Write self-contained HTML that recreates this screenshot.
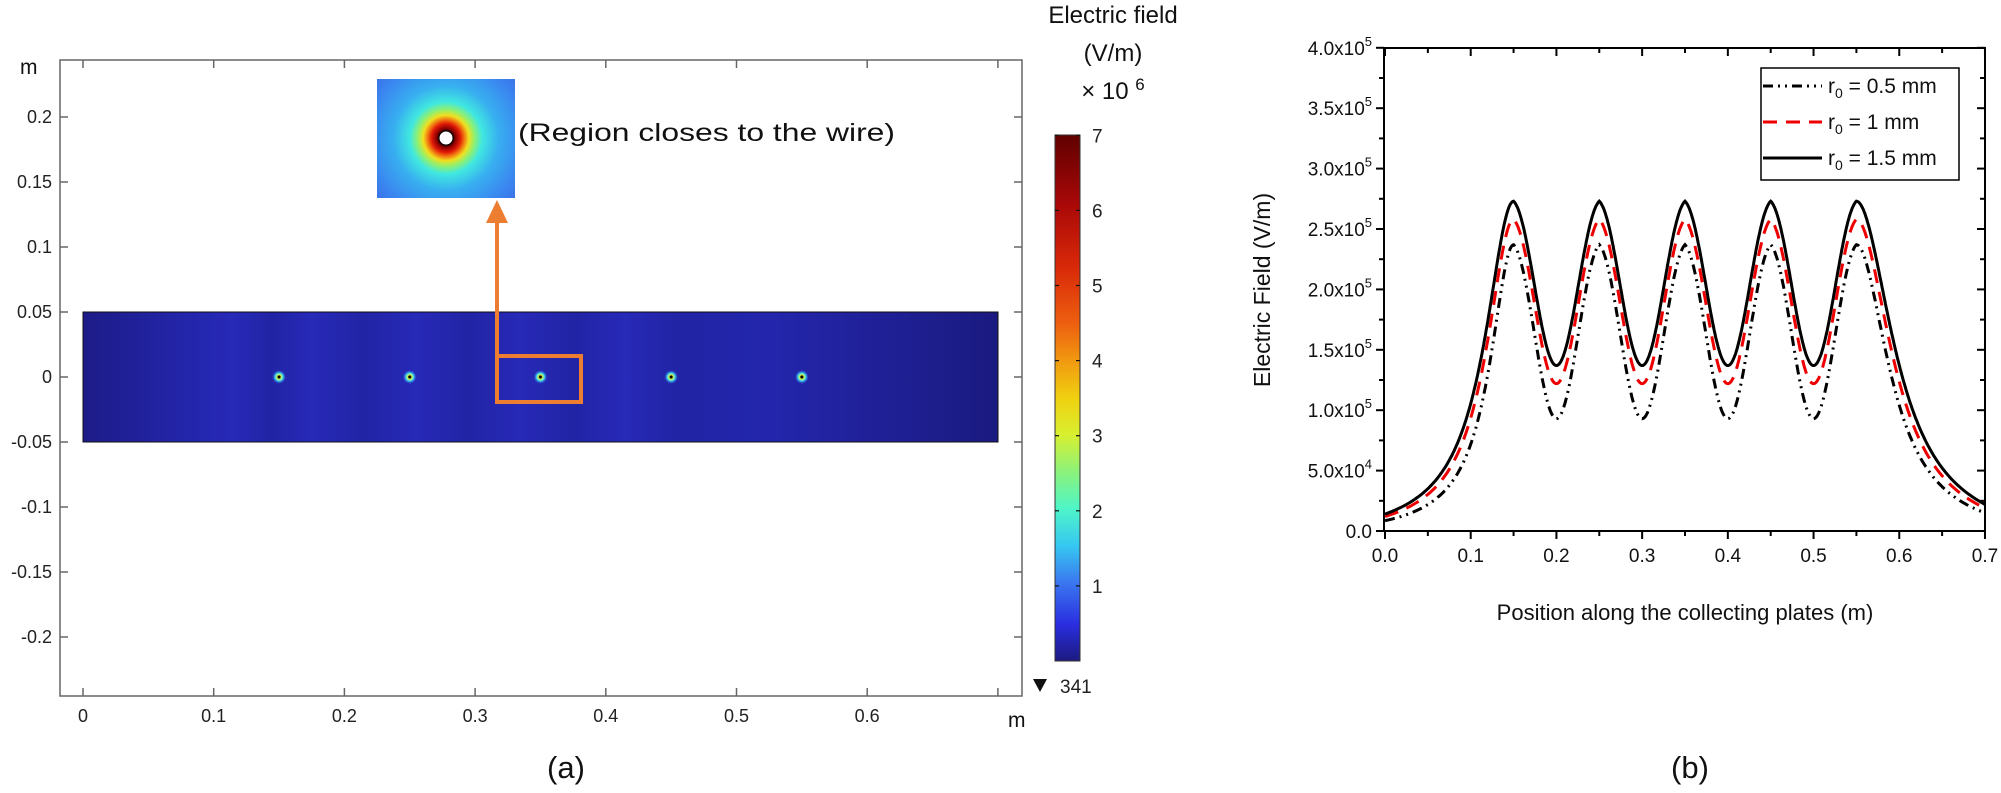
<!DOCTYPE html>
<html><head><meta charset="utf-8"><style>
html,body{margin:0;padding:0;background:#fff;}
svg{display:block;}
text{font-family:"Liberation Sans",Arial,sans-serif;}
</style></head><body>
<svg id="s" width="2001" height="793" viewBox="0 0 2001 793" xmlns="http://www.w3.org/2000/svg">
<defs>
<linearGradient id="cb" x1="0" y1="1" x2="0" y2="0">
<stop offset="0" stop-color="#1c1a7e"/>
<stop offset="0.07" stop-color="#2a2ee0"/>
<stop offset="0.15" stop-color="#3a78f0"/>
<stop offset="0.22" stop-color="#36c8f0"/>
<stop offset="0.29" stop-color="#4ff5c8"/>
<stop offset="0.36" stop-color="#8cf27a"/>
<stop offset="0.43" stop-color="#d8f030"/>
<stop offset="0.5" stop-color="#f0d010"/>
<stop offset="0.57" stop-color="#f09a10"/>
<stop offset="0.64" stop-color="#ee6010"/>
<stop offset="0.75" stop-color="#d82808"/>
<stop offset="0.87" stop-color="#a80808"/>
<stop offset="1" stop-color="#600000"/>
</linearGradient>
<radialGradient id="ins" cx="446" cy="138" r="95" gradientUnits="userSpaceOnUse">
<stop offset="0.07" stop-color="#000"/>
<stop offset="0.1" stop-color="#8a0000"/>
<stop offset="0.15" stop-color="#e01808"/>
<stop offset="0.19" stop-color="#f07010"/>
<stop offset="0.24" stop-color="#f0e020"/>
<stop offset="0.3" stop-color="#90f070"/>
<stop offset="0.38" stop-color="#40e8e0"/>
<stop offset="0.55" stop-color="#38b0f0"/>
<stop offset="0.8" stop-color="#3a88f0"/>
<stop offset="1" stop-color="#3a6ee8"/>
</radialGradient>
<linearGradient id="fld" x1="83" y1="0" x2="998" y2="0" gradientUnits="userSpaceOnUse">
<stop offset="0" stop-color="#1d1c88"/>
<stop offset="0.12" stop-color="#2326ac"/>
<stop offset="0.164" stop-color="#2729b8"/>
<stop offset="0.207" stop-color="#2124a4"/>
<stop offset="0.25" stop-color="#2729b8"/>
<stop offset="0.307" stop-color="#2124a4"/>
<stop offset="0.364" stop-color="#2729b8"/>
<stop offset="0.421" stop-color="#2124a4"/>
<stop offset="0.478" stop-color="#2729b8"/>
<stop offset="0.536" stop-color="#2124a4"/>
<stop offset="0.593" stop-color="#2729b8"/>
<stop offset="0.65" stop-color="#2124a4"/>
<stop offset="0.75" stop-color="#2326ac"/>
<stop offset="1" stop-color="#1b1a80"/>
</linearGradient>
<radialGradient id="wd">
<stop offset="0.15" stop-color="#000"/>
<stop offset="0.3" stop-color="#e0f040"/>
<stop offset="0.55" stop-color="#40e0f0"/>
<stop offset="1" stop-color="#2a4ee0" stop-opacity="0"/>
</radialGradient>
</defs>

<rect x="60" y="60" width="962" height="636" fill="none" stroke="#666" stroke-width="1.5"/>
<g id="lt" stroke="#666" stroke-width="1.5"></g>
<g id="ll" font-size="18" fill="#222"></g>
<text x="20" y="74" font-size="21" fill="#111">m</text>
<text x="1008" y="727" font-size="21" fill="#111">m</text>

<rect x="83" y="312" width="915" height="130" fill="url(#fld)" stroke="#111" stroke-width="1"/>
<g id="wires"></g>

<rect x="377" y="79" width="138" height="119" fill="url(#ins)"/>
<circle cx="446" cy="138" r="6.5" fill="#fff"/>
<text x="518" y="141" font-size="25" fill="#111" textLength="377" lengthAdjust="spacingAndGlyphs">(Region closes to the wire)</text>

<rect x="497" y="356" width="84" height="46" fill="none" stroke="#ed7d31" stroke-width="4"/>
<line x1="497" y1="356" x2="497" y2="220" stroke="#ed7d31" stroke-width="4"/>
<polygon points="486,223 508,223 497,200" fill="#ed7d31"/>

<text x="1113" y="23" font-size="24" fill="#111" text-anchor="middle">Electric field</text>
<text x="1113" y="61" font-size="24" fill="#111" text-anchor="middle">(V/m)</text>
<text x="1113" y="99" font-size="24" fill="#111" text-anchor="middle">× 10 <tspan font-size="17" dy="-9">6</tspan></text>
<rect x="1055" y="135" width="25" height="526" fill="url(#cb)" stroke="#333" stroke-width="1"/>
<g id="cbt" stroke="#111" stroke-width="1.2"></g>
<g id="cbl" font-size="19" fill="#222"></g>
<polygon points="1033,679 1047,679 1040,692" fill="#111"/>
<text x="1060" y="693" font-size="19" fill="#222">341</text>

<text x="566" y="778" font-size="31" fill="#111" text-anchor="middle">(a)</text>

<rect x="1384" y="48" width="601" height="483" fill="none" stroke="#000" stroke-width="2"/>
<g id="rt" stroke="#000" stroke-width="2"></g>
<g id="rl" font-size="19" fill="#111"></g>
<text transform="translate(1270,290) rotate(-90)" font-size="23" fill="#111" text-anchor="middle">Electric Field (V/m)</text>
<text x="1685" y="620" font-size="22" fill="#111" text-anchor="middle">Position along the collecting plates (m)</text>
<g id="curves" fill="none" stroke-width="3"></g>

<rect x="1761" y="68" width="198" height="112" fill="#fff" stroke="#000" stroke-width="1.5"/>
<line x1="1763" y1="86" x2="1822" y2="86" stroke="#000" stroke-width="3" stroke-dasharray="10,5,2,5,2,5"/>
<line x1="1763" y1="122" x2="1822" y2="122" stroke="#e00" stroke-width="3" stroke-dasharray="14,9"/>
<line x1="1763" y1="158" x2="1822" y2="158" stroke="#000" stroke-width="3"/>
<text x="1828" y="93" font-size="21" fill="#111">r<tspan font-size="14" dy="5">0</tspan><tspan dy="-5"> = 0.5 mm</tspan></text>
<text x="1828" y="129" font-size="21" fill="#111">r<tspan font-size="14" dy="5">0</tspan><tspan dy="-5"> = 1 mm</tspan></text>
<text x="1828" y="165" font-size="21" fill="#111">r<tspan font-size="14" dy="5">0</tspan><tspan dy="-5"> = 1.5 mm</tspan></text>

<text x="1690" y="778" font-size="31" fill="#111" text-anchor="middle">(b)</text>
</svg>
<script>
var NS="http://www.w3.org/2000/svg";
function el(p,t,a,txt){var e=document.createElementNS(NS,t);for(var k in a)e.setAttribute(k,a[k]);if(txt!==undefined)e.textContent=txt;p.appendChild(e);return e;}
var lt=document.getElementById('lt'),ll=document.getElementById('ll');
function XL(v){return 83+1307*v;} function YL(v){return 377-1300*v;}
for(var i=0;i<=7;i++){var x=XL(i/10);
 el(lt,'line',{x1:x,y1:696,x2:x,y2:688});el(lt,'line',{x1:x,y1:60,x2:x,y2:68});
 if(i<7)el(ll,'text',{x:x,y:722,'text-anchor':'middle'},i==0?'0':'0.'+i);}
var yl=[0.2,0.15,0.1,0.05,0,-0.05,-0.1,-0.15,-0.2];
yl.forEach(function(v){var y=YL(v);el(lt,'line',{x1:60,y1:y,x2:68,y2:y});el(lt,'line',{x1:1022,y1:y,x2:1014,y2:y});
 el(ll,'text',{x:52,y:y+6,'text-anchor':'end'},String(v));});
var w=document.getElementById('wires');
[0.15,0.25,0.35,0.45,0.55].forEach(function(v){var x=XL(v);el(w,'circle',{cx:x,cy:377,r:7,fill:'url(#wd)'});});
var cbt=document.getElementById('cbt'),cbl=document.getElementById('cbl');
for(var k=1;k<=7;k++){var y=661-75.1*k;el(cbt,'line',{x1:1055,y1:y,x2:1059,y2:y});el(cbt,'line',{x1:1076,y1:y,x2:1080,y2:y});
 el(cbl,'text',{x:1092,y:y+7},String(k));}
var rt=document.getElementById('rt'),rl=document.getElementById('rl');
function XR(v){return 1385+857.1*v;} function YR(v){return 531-60.4*v/0.5e5;}
for(var i=0;i<=14;i++){var x=XR(i*0.05),L=(i%2==0)?8:5;
 el(rt,'line',{x1:x,y1:531,x2:x,y2:531+L});el(rt,'line',{x1:x,y1:48,x2:x,y2:48+L});
 if(i%2==0)el(rl,'text',{x:x,y:562,'text-anchor':'middle'},(i/20).toFixed(1));}
var labs=['0.0','5.0x10','1.0x10','1.5x10','2.0x10','2.5x10','3.0x10','3.5x10','4.0x10'];
for(var i=0;i<=16;i++){var y=YR(i*0.25e5),L=(i%2==0)?8:5;
 el(rt,'line',{x1:1384,y1:y,x2:1384-L,y2:y});el(rt,'line',{x1:1985,y1:y,x2:1985-L,y2:y});
 if(i%2==0){var j=i/2;var t=el(rl,'text',{x:1372,y:y+7,'text-anchor':'end'},labs[j]);
  if(j>0){el(t,'tspan',{'font-size':13,dy:-9},j==1?'4':'5');}}}
var cv=document.getElementById('curves');
function mk(P,V,El,Er,col,dash){
 function nn(t){return 0.12*(1-t)*(1-t)+0.88*(1+Math.cos(Math.PI*t))/2;}
 var wl=0.15/Math.sqrt(P/El-1)*1.15,wr=0.15/Math.sqrt(P/Er-1)*1.15;
 function tail(dd,ww){return P/(1+(dd/ww)*(dd/ww));}
 var d='';
 for(var i=0;i<=700;i++){var x=i/1000,f;
  if(x<0.15){var dd=0.15-x;f=tail(dd,wl);var e=tail(0.15,wl);f=f-(e-El)*(dd/0.15);}
  else if(x>0.55){var dd=x-0.55;f=tail(dd,wr);var e=tail(0.15,wr);f=f-(e-Er)*(dd/0.15);}
  else{var r=(x-0.15)%0.1;if(r>0.05)r=0.1-r;f=V+(P-V)*nn(r/0.05);}
  d+=(i?'L':'M')+XR(x).toFixed(1)+','+YR(f).toFixed(1);}
 var a={d:d,stroke:col};if(dash)a['stroke-dasharray']=dash;el(cv,'path',a);}
mk(2.37e5,0.93e5,0.85e4,1.5e4,'#000','10,5,2,5,2,5');
mk(2.58e5,1.22e5,1.2e4,1.9e4,'#e00','14,9');
mk(2.73e5,1.37e5,1.4e4,2.2e4,'#000',null);
</script>
</body></html>
